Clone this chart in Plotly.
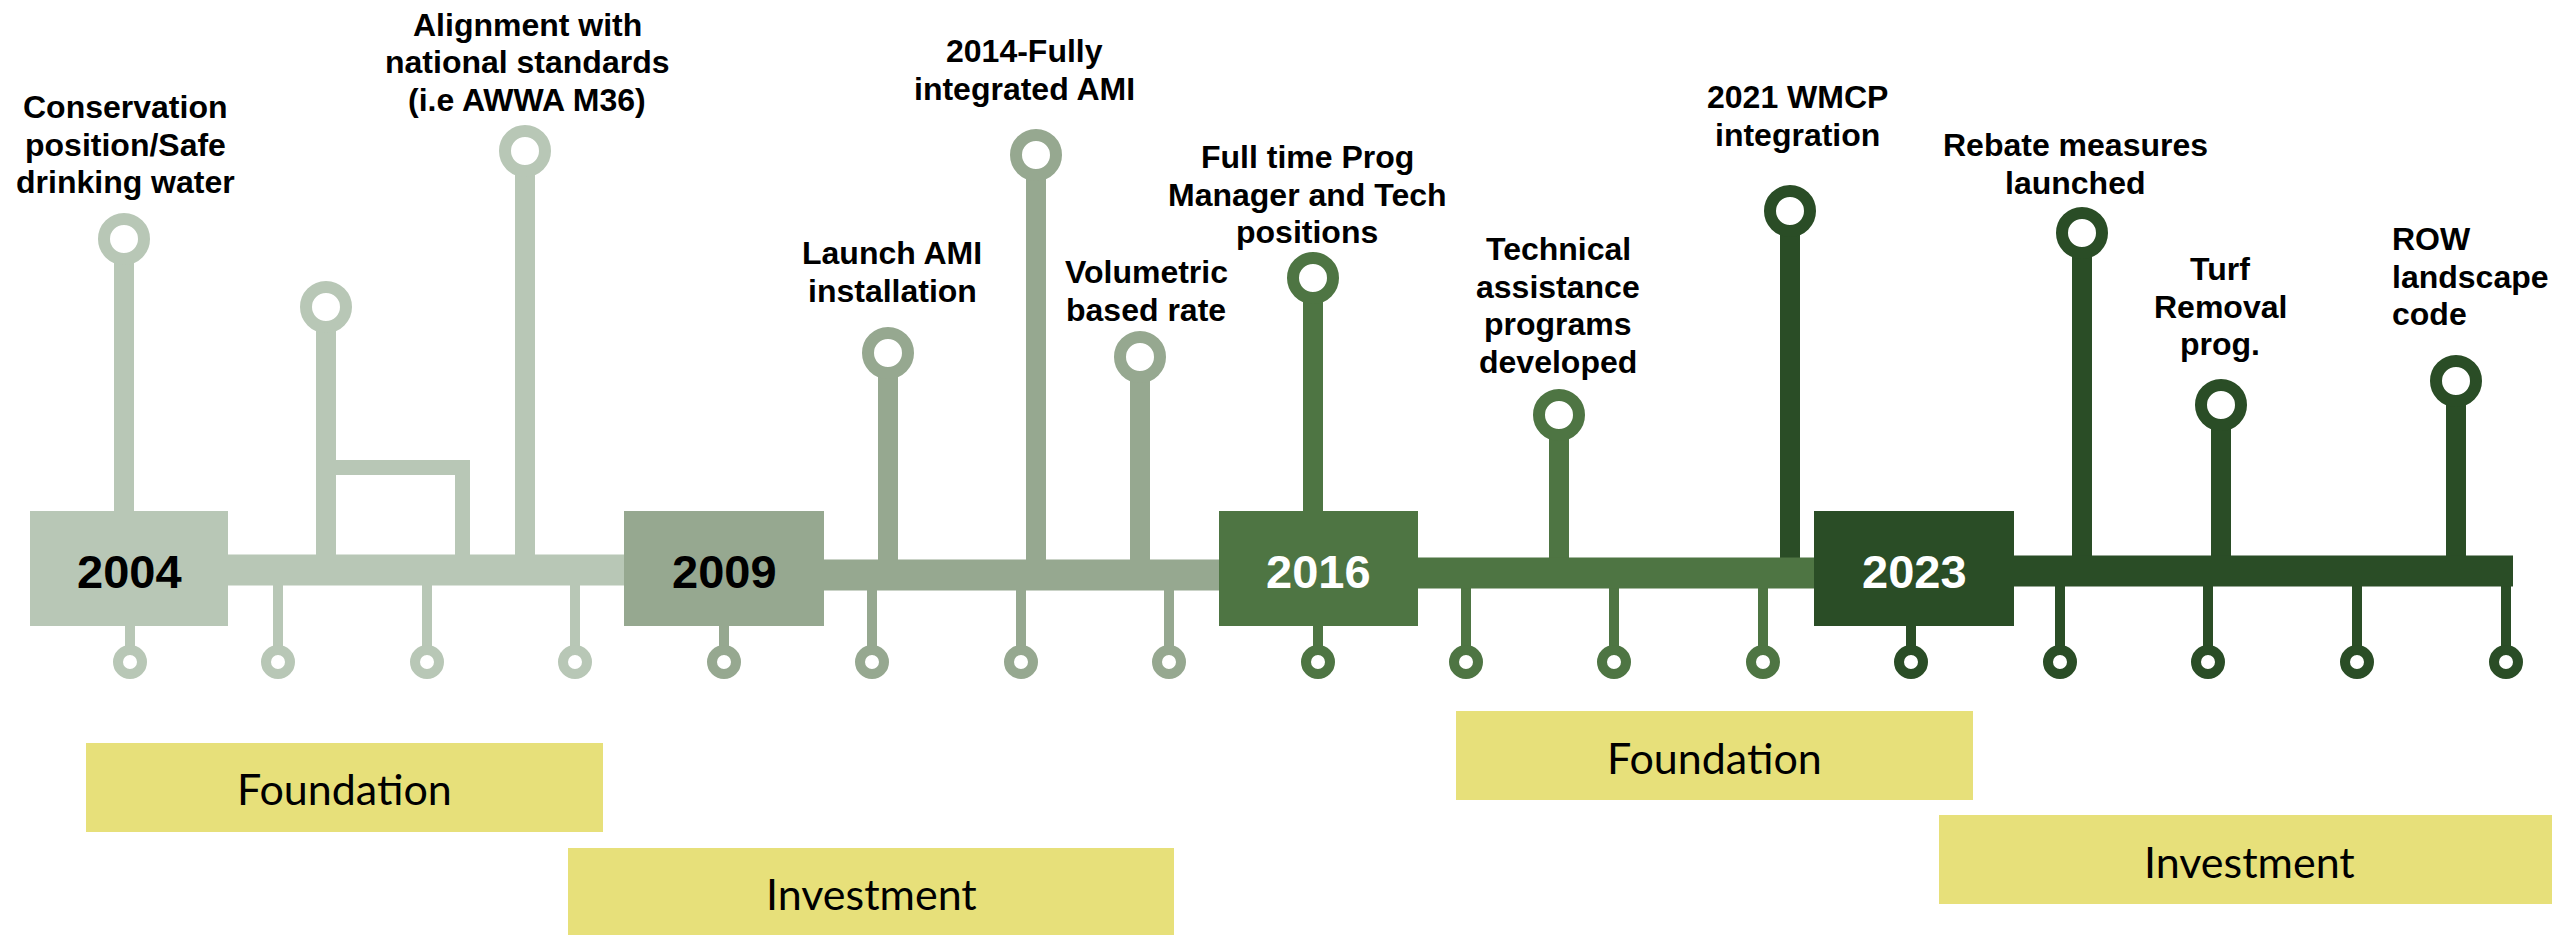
import plotly.graph_objects as go

W, H = 2552, 935

# ---- timeline phases (year blocks) ----
years = ["2004", "2009", "2016", "2023"]
year_box_x0 = [30, 624, 1219, 1814]
year_box_x1 = [228, 824, 1418, 2014]
phase_colors = ["#B8C7B6", "#96A890", "#4E7543", "#2A4D26"]
year_text_colors = ["#000000", "#000000", "#FFFFFF", "#FFFFFF"]
line_end = 2513
line_center = [570, 575, 573, 571]

# ---- events above the timeline ----
event_lines = [
    ["Conservation", "position/Safe", "drinking water"],
    [],
    ["Alignment with", "national standards", "(i.e AWWA M36)"],
    ["Launch AMI", "installation"],
    ["2014-Fully", "integrated AMI"],
    ["Volumetric", "based rate"],
    ["Full time Prog", "Manager and Tech", "positions"],
    ["Technical", "assistance", "programs", "developed"],
    ["2021 WMCP", "integration"],
    ["Rebate measures", "launched"],
    ["Turf", "Removal", "prog."],
    ["ROW", "landscape", "code"],
]
event_x = [124, 326, 525, 888, 1036, 1140, 1313, 1559, 1790, 2082, 2221, 2456]
event_ring_y = [239, 307, 151, 353, 155, 357, 278, 415, 211, 233, 405, 381]
event_phase = [0, 0, 0, 1, 1, 1, 2, 2, 3, 3, 3, 3]
label_x = [125, 327, 527, 892, 1024, 1146, 1307, 1558, 1797, 2075, 2220, 2390]
label_y = [107, 0, 24.5, 253, 51, 272, 157, 249, 97, 145, 269, 239]
label_align = ["center"] * 11 + ["left"]

# ---- small ticks below the timeline ----
tick_x = [130, 278, 427, 575, 724, 872, 1021, 1169, 1318, 1466, 1614, 1763,
          1911, 2060, 2208, 2357, 2506]
tick_phase = [0, 0, 0, 0, 1, 1, 1, 1, 2, 2, 2, 2, 3, 3, 3, 3, 3]

# ---- stage banners ----
stage_names = ["Foundation", "Investment", "Foundation", "Investment"]
stage_x0 = [86, 568, 1456, 1939]
stage_x1 = [603, 1174, 1973, 2560]
stage_y0 = [743, 848, 711, 815]
stage_y1 = [832, 945, 800, 904]
stage_text_y = [788, 893, 757, 861]
stage_color = "#E7E07A"

BOX_TOP, BOX_BOT = 511, 626
LINE_HALF = 15.5
STEM_W = 20
TICK_W = 10
TICK_RING_Y = 662
LINE_SPACING = 37.5

fig = go.Figure()
fig.add_trace(go.Scatter(x=[0, W], y=[0, H], mode="markers",
                         marker=dict(opacity=0), hoverinfo="skip", showlegend=False))

shapes = []
annotations = []


def rect(x0, x1, y0, y1, color):
    shapes.append(dict(type="rect", xref="x", yref="y", x0=x0, x1=x1, y0=y0, y1=y1,
                       fillcolor=color, line=dict(width=0), layer="above"))


def ring(cx, cy, r, lw, color):
    shapes.append(dict(type="circle", xref="x", yref="y", x0=cx - r, x1=cx + r,
                       y0=cy - r, y1=cy + r, fillcolor="white",
                       line=dict(color=color, width=lw), layer="above"))


# stems of events
for i, x in enumerate(event_x):
    c = phase_colors[event_phase[i]]
    p = event_phase[i]
    bottom = line_center[p]
    if year_box_x0[p] <= x <= year_box_x1[p]:
        bottom = BOX_TOP + 5
    rect(x - STEM_W / 2, x + STEM_W / 2, event_ring_y[i], bottom, c)

# bracket connector of the second event
rect(event_x[1], 470, 460, 475, phase_colors[0])
rect(455, 470, 460, line_center[0], phase_colors[0])

# small ticks below
for i, x in enumerate(tick_x):
    c = phase_colors[tick_phase[i]]
    rect(x - TICK_W / 2, x + TICK_W / 2, line_center[tick_phase[i]], TICK_RING_Y, c)

# main line segments
for p in range(4):
    x0 = year_box_x1[p] - 5
    x1 = year_box_x0[p + 1] + 5 if p < 3 else line_end
    rect(x0, x1, line_center[p] - LINE_HALF, line_center[p] + LINE_HALF, phase_colors[p])

# year boxes
for p in range(4):
    rect(year_box_x0[p], year_box_x1[p], BOX_TOP, BOX_BOT, phase_colors[p])
    annotations.append(dict(x=(year_box_x0[p] + year_box_x1[p]) / 2, y=(BOX_TOP + BOX_BOT) / 2 + 3,
                            xref="x", yref="y", text=years[p], showarrow=False,
                            xanchor="center", yanchor="middle",
                            font=dict(family="Liberation Sans, Arial", size=47,
                                      color=year_text_colors[p], weight="bold")))

# rings
for i, x in enumerate(event_x):
    ring(x, event_ring_y[i], 20, 12, phase_colors[event_phase[i]])
for i, x in enumerate(tick_x):
    ring(x, TICK_RING_Y, 12, 10, phase_colors[tick_phase[i]])

# event labels
for i, lines in enumerate(event_lines):
    for j, t in enumerate(lines):
        annotations.append(dict(x=label_x[i], y=label_y[i] + j * LINE_SPACING,
                                xref="x", yref="y", text=t, showarrow=False,
                                xanchor=label_align[i], yanchor="middle", align=label_align[i],
                                font=dict(family="Liberation Sans, Arial", size=32,
                                          color="#000000", weight="bold")))

# stage banners
for k in range(4):
    rect(stage_x0[k], stage_x1[k], stage_y0[k], stage_y1[k], stage_color)
    annotations.append(dict(x=(stage_x0[k] + min(stage_x1[k], W + 7)) / 2, y=stage_text_y[k],
                            xref="x", yref="y", text=stage_names[k], showarrow=False,
                            xanchor="center", yanchor="middle",
                            font=dict(family="Lato, Noto Sans, sans-serif", size=43,
                                      color="#000000")))

fig.update_layout(
    width=W, height=H,
    margin=dict(l=0, r=0, t=0, b=0),
    paper_bgcolor="white", plot_bgcolor="white",
    xaxis=dict(range=[0, W], visible=False, fixedrange=True),
    yaxis=dict(range=[H, 0], visible=False, fixedrange=True),
    shapes=shapes, annotations=annotations, showlegend=False,
)

fig.write_html("out.html", config={"displayModeBar": False},
               post_script="document.body.style.margin='0';document.body.style.overflow='hidden';")
